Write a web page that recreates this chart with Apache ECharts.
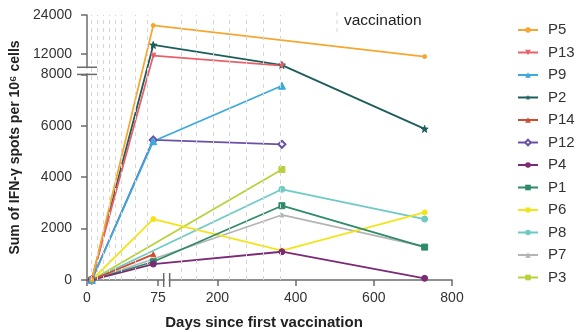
<!DOCTYPE html>
<html><head><meta charset="utf-8">
<script src="https://cdn.jsdelivr.net/npm/echarts@6/dist/echarts.min.js"></script>
<style>html,body{margin:0;padding:0;background:#fff}#c{width:576px;height:332px}</style>
</head><body><div id="c"></div>
<script>
// ---- data ----
const seriesNames = ['P5','P13','P9','P2','P14','P12','P4','P1','P6','P8','P7','P3'];
const daysP5 = [5, 70, 730],      valsP5 = [0, 20800, 11200];
const daysP13 = [5, 70, 365],     valsP13 = [0, 11500, 8400];
const daysP9 = [5, 70, 365],      valsP9 = [0, 5400, 7560];
const daysP2 = [5, 70, 365, 730], valsP2 = [0, 14800, 8600, 5880];
const daysP14 = [5, 70],          valsP14 = [0, 1000];
const daysP12 = [5, 70, 365],     valsP12 = [0, 5450, 5280];
const daysP4 = [5, 70, 365, 730], valsP4 = [0, 620, 1100, 65];
const daysP1 = [5, 70, 365, 730], valsP1 = [0, 710, 2890, 1280];
const daysP6 = [5, 70, 365, 730], valsP6 = [0, 2370, 1140, 2630];
const daysP8 = [5, 365, 730],     valsP8 = [0, 3530, 2370];
const daysP7 = [5, 365, 730],     valsP7 = [0, 2530, 1300];
const daysP3 = [5, 365],          valsP3 = [0, 4300];
const vaccinationDays = [4.5, 11, 17, 23.5, 30, 36, 50.5, 63.5, 108, 147, 189, 231, 274, 317, 361];
const xTickLabels = [0, 75, 200, 400, 600, 800];
const yTickLabels = [0, 2000, 4000, 6000, 8000, 12000, 24000];

// ---- broken-axis mapping (left segment 0-75 days, right 200-800; lower 0-8000, upper 8000-24000) ----
const fx = d => d <= 76 ? d : 55.1 + 0.413 * d;
const fyU = v => 7276 + 0.1265 * v;
const fy = v => v <= 8000 ? v : fyU(v);
const yTickPos = yTickLabels.map(fy);
const xTickPos = xTickLabels.map(fx);
const nearestLabel = (val, pos, labels) => {
  let best = 0;
  pos.forEach((p, i) => { if (Math.abs(p - val) < Math.abs(pos[best] - val)) best = i; });
  return String(labels[best]);
};

const styles = {
  P5:  {color:'#F5A731', symbol:'circle', size:4},
  P13: {color:'#E8606A', symbol:'triangle', size:5, rotate:180},
  P9:  {color:'#3BA9DF', symbol:'triangle', size:7},
  P2:  {color:'#1B5E5C', symbol:'path://M50,0 L61,35 L98,35 L68,57 L79,91 L50,70 L21,91 L32,57 L2,35 L39,35 Z', size:7},
  P14: {color:'#CF4A30', symbol:'triangle', size:5},
  P12: {color:'#6952A6', symbol:'emptyDiamond', size:7},
  P4:  {color:'#7B2A76', symbol:'circle', size:6},
  P1:  {color:'#2E8B6A', symbol:'rect', size:6},
  P6:  {color:'#F3E41A', symbol:'circle', size:5},
  P8:  {color:'#6ECBC4', symbol:'circle', size:6},
  P7:  {color:'#B4B4B4', symbol:'triangle', size:4},
  P3:  {color:'#B7D23A', symbol:'rect', size:6}
};
const raw = {
  P5:[daysP5,valsP5], P13:[daysP13,valsP13], P9:[daysP9,valsP9], P2:[daysP2,valsP2],
  P14:[daysP14,valsP14], P12:[daysP12,valsP12], P4:[daysP4,valsP4], P1:[daysP1,valsP1],
  P6:[daysP6,valsP6], P8:[daysP8,valsP8], P7:[daysP7,valsP7], P3:[daysP3,valsP3]
};

const axisColor = '#6b6b6b';
const lineSeries = seriesNames.slice().reverse().map(name => {
  const s = styles[name];
  const [d, v] = raw[name];
  return {
    name, type:'line', data: d.map((x, i) => [fx(x), fy(v[i])]),
    symbol: s.symbol, symbolSize: s.size, symbolRotate: s.rotate || 0,
    showAllSymbol: true,
    itemStyle: {color: s.color, borderColor: s.color},
    lineStyle: {color: s.color, width: 1.8},
    emphasis: {disabled: true}, animation: false
  };
});

const vacSeries = {
  name: 'vaccination', type: 'line', data: [], silent: true,
  markLine: {
    silent: true, symbol: ['none','none'], label: {show:false}, animation: false,
    lineStyle: {type: [4, 4], color: '#d6d6d6', width: 1},
    data: vaccinationDays.map(d => ({xAxis: fx(d)}))
  }
};

const chart = echarts.init(document.getElementById('c'), null, {renderer:'canvas'});
const font = 'Liberation Sans, Arial, sans-serif';
chart.setOption({
  animation: false,
  backgroundColor: '#fff',
  grid: {left: 87, right: 124, top: 15, bottom: 52, containLabel: false, outerBoundsMode: 'none'},
  legend: {
    data: seriesNames, orient: 'vertical', left: 512, top: 17.5,
    itemWidth: 20, itemHeight: 7, itemGap: 7.5,
    textStyle: {fontSize: 15, color: '#333', fontFamily: font, padding: [0, 0, 0, 5]}
  },
  xAxis: {
    type: 'value', min: 0, max: fx(800),
    name: 'Days since first vaccination', nameLocation: 'middle', nameGap: 35,
    nameTextStyle: {fontSize: 15, fontWeight: 'bold', color: '#222', fontFamily: font, padding: [0, 11, 0, 0]},
    axisLine: {show: true, lineStyle: {color: axisColor, width: 1.5}},
    axisTick: {show: true, length: 6, lineStyle: {color: axisColor, width: 1.5}, customValues: xTickPos},
    axisLabel: {fontSize: 14, color: '#333', fontFamily: font, margin: 11, customValues: xTickPos,
      formatter: v => nearestLabel(v, xTickPos, xTickLabels)},
    splitLine: {show: false}
  },
  yAxis: {
    type: 'value', min: 0, max: fy(24000),
    name: 'Sum of IFN-γ spots per 10⁶ cells', nameLocation: 'middle', nameGap: 61, nameRotate: 90,
    nameTextStyle: {fontSize: 14, fontWeight: 'bold', color: '#222', fontFamily: font},
    axisLine: {show: true, lineStyle: {color: axisColor, width: 1.5}},
    axisTick: {show: true, length: 6, lineStyle: {color: axisColor, width: 1.5}, customValues: yTickPos},
    axisLabel: {fontSize: 14, color: '#333', fontFamily: font, margin: 15, customValues: yTickPos,
      formatter: v => nearestLabel(v, yTickPos, yTickLabels)},
    splitLine: {show: false}
  },
  series: [vacSeries].concat(lineSeries)
});

// ---- break marks and "vaccination" key ----
const px = (x, y) => chart.convertToPixel({gridIndex: 0}, [x, y]);
const yLow = px(0, 8000)[1], yUp = px(0, fyU(8000) - 10)[1], ax = px(0, 0)[0];
const xb1 = px(81, 0)[0], xb2 = px(87.3, 0)[0], ay = px(0, 0)[1];
const stroke = {stroke: axisColor, lineWidth: 1.5};
chart.setOption({
  graphic: [
    {type:'rect', shape:{x: ax - 3, y: yUp + 1, width: 6, height: yLow - yUp - 2}, style:{fill:'#fff'}, z: 100},
    {type:'line', shape:{x1: ax - 10, y1: yUp, x2: ax + 10, y2: yUp}, style: stroke, z: 101},
    {type:'line', shape:{x1: ax - 10, y1: yLow, x2: ax + 10, y2: yLow}, style: stroke, z: 101},
    {type:'rect', shape:{x: xb1 + 1, y: ay - 3, width: xb2 - xb1 - 2, height: 6}, style:{fill:'#fff'}, z: 100},
    {type:'line', shape:{x1: xb1, y1: ay - 7, x2: xb1, y2: ay + 7}, style: stroke, z: 101},
    {type:'line', shape:{x1: xb2, y1: ay - 7, x2: xb2, y2: ay + 7}, style: stroke, z: 101},
    {type:'line', shape:{x1: 337, y1: 12, x2: 337, y2: 34}, style:{stroke:'#d6d6d6', lineWidth:1, lineDash:[4,4]}, z: 101},
    {type:'text', left: 344, top: 13, style:{text:'vaccination', fontSize: 15.5, fill:'#222', fontFamily: font}, z: 101}
  ]
});
</script>
</body></html>
